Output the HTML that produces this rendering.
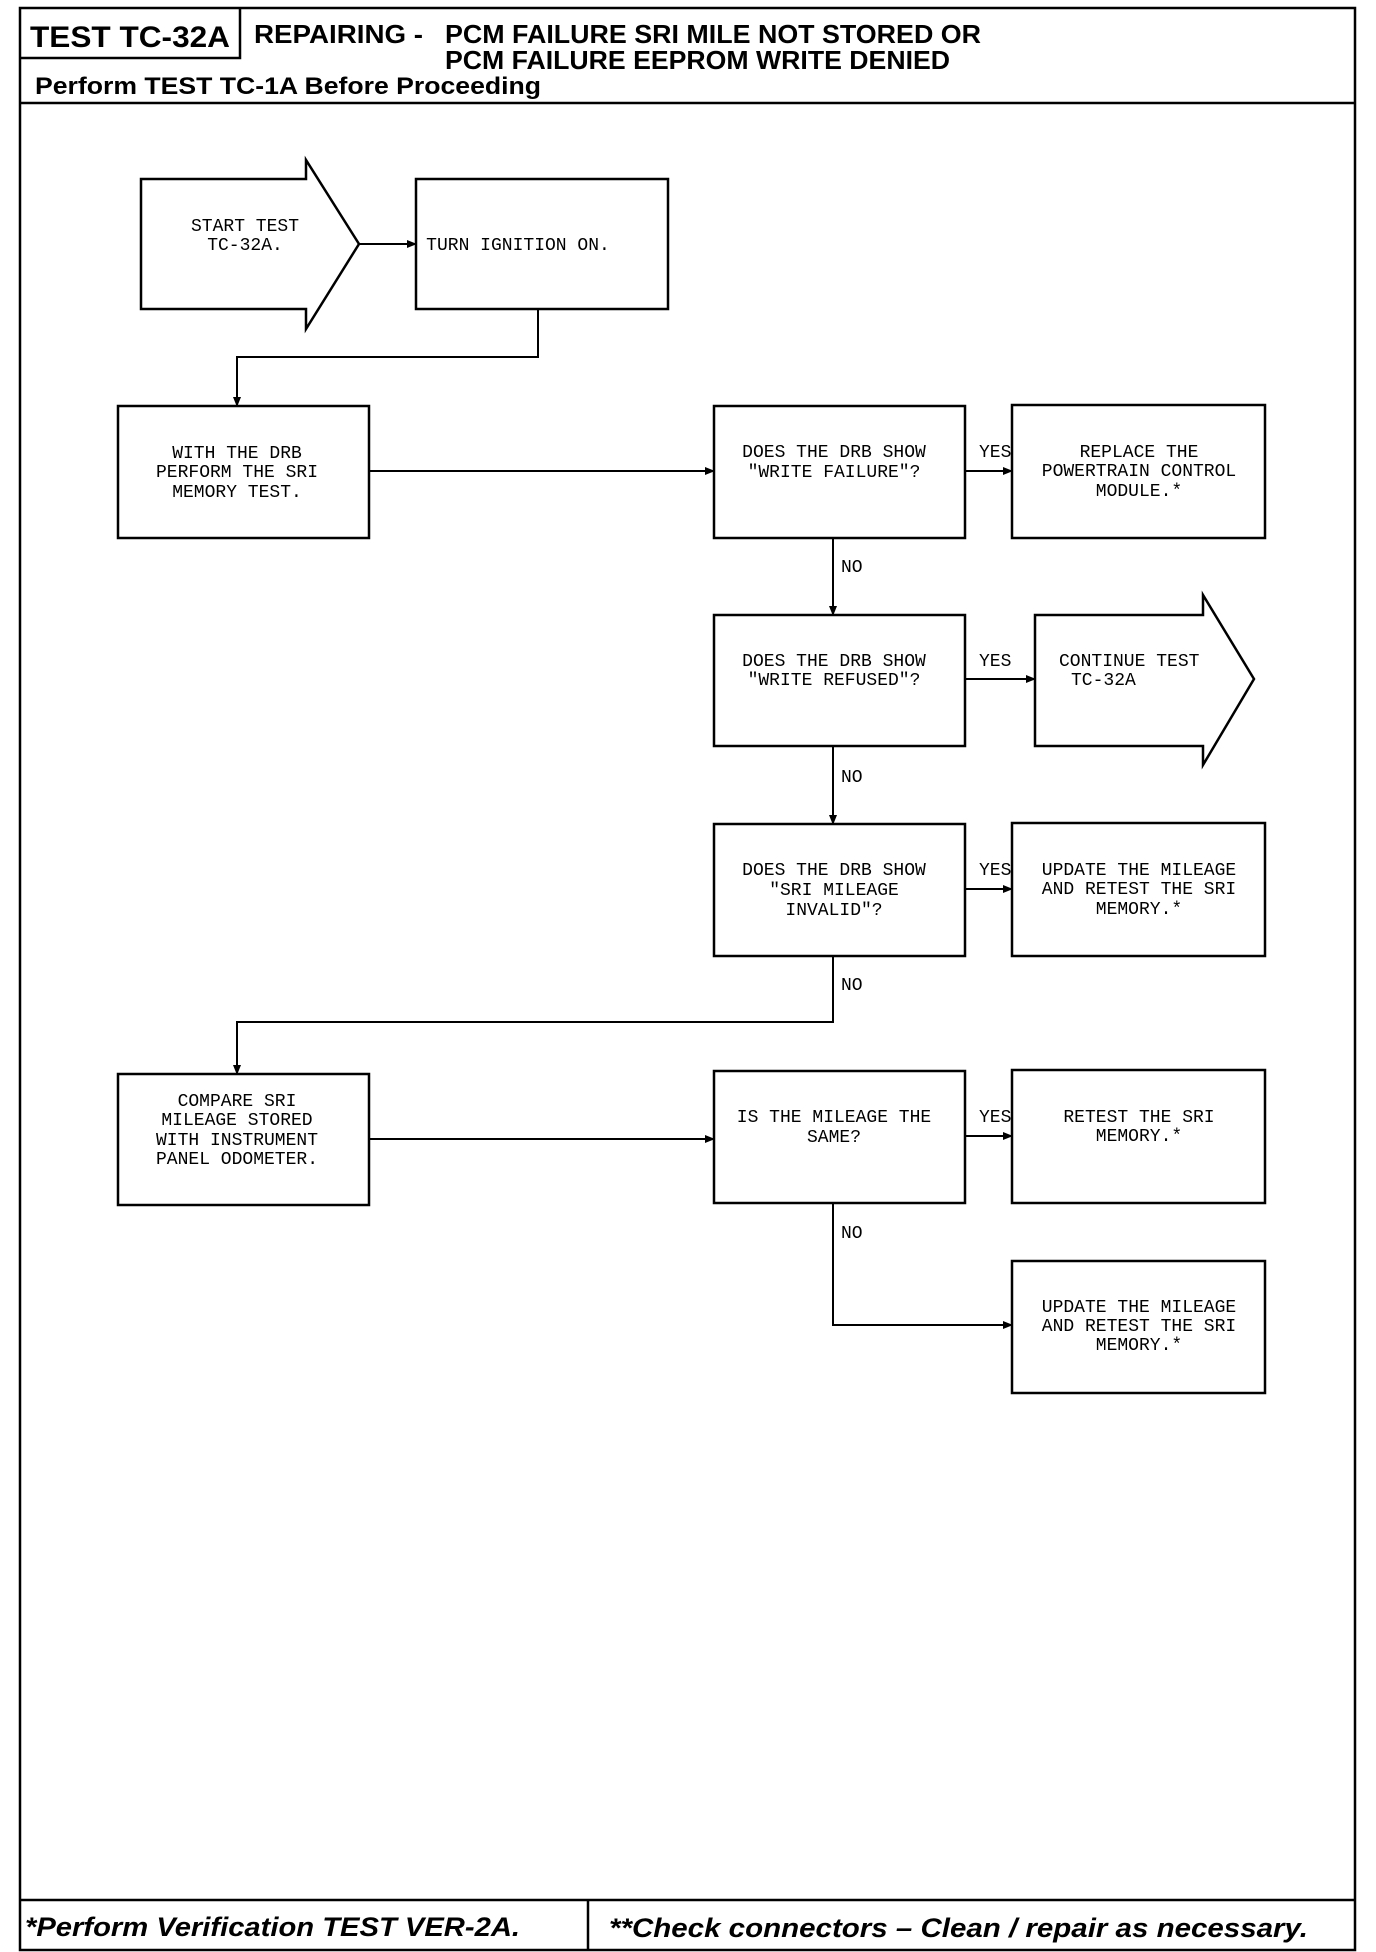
<!DOCTYPE html>
<html><head><meta charset="utf-8"><style>
html,body{margin:0;padding:0;background:#fff}
svg{display:block}
.t{font-family:"Liberation Mono",monospace;font-size:18px;fill:#000}
.h{font-family:"Liberation Sans",sans-serif;font-weight:bold;fill:#000}
</style></head><body>
<svg width="1376" height="1952" viewBox="0 0 1376 1952" xmlns="http://www.w3.org/2000/svg">
<defs><marker id="a" markerWidth="10" markerHeight="10" refX="9" refY="5" orient="auto" markerUnits="userSpaceOnUse"><path d="M0,1 L10,5 L0,9 z" fill="#000"/></marker></defs>
<g fill="none" stroke="#000" stroke-width="2.5">
<rect x="20" y="8" width="1335" height="1942"/>
<line x1="20" y1="103" x2="1355" y2="103"/>
<polyline points="20,58 240,58 240,8"/>
<line x1="20" y1="1900" x2="1355" y2="1900"/>
<line x1="588" y1="1900" x2="588" y2="1950"/>
</g>
<text class="h" x="30" y="47" font-size="30" textLength="200" lengthAdjust="spacingAndGlyphs">TEST TC-32A</text>
<text class="h" x="254" y="43" font-size="26" textLength="169" lengthAdjust="spacingAndGlyphs">REPAIRING -</text>
<text class="h" x="445" y="43" font-size="26" textLength="536" lengthAdjust="spacingAndGlyphs">PCM FAILURE SRI MILE NOT STORED OR</text>
<text class="h" x="445" y="69" font-size="26" textLength="505" lengthAdjust="spacingAndGlyphs">PCM FAILURE EEPROM WRITE DENIED</text>
<text class="h" x="35" y="94" font-size="24" textLength="506" lengthAdjust="spacingAndGlyphs">Perform TEST TC-1A Before Proceeding</text>
<text class="h" x="25" y="1936" font-size="27" font-style="italic" textLength="495" lengthAdjust="spacingAndGlyphs">*Perform Verification TEST VER-2A.</text>
<text class="h" x="609" y="1937" font-size="27" font-style="italic" textLength="699" lengthAdjust="spacingAndGlyphs">**Check connectors – Clean / repair as necessary.</text>

<g fill="none" stroke="#000" stroke-width="2.5">
<polygon points="141,179 306,179 306,160 359,244 306,329 306,309 141,309"/>
<rect x="416" y="179" width="252" height="130"/>
<rect x="118" y="406" width="251" height="132"/>
<rect x="714" y="406" width="251" height="132"/>
<rect x="1012" y="405" width="253" height="133"/>
<rect x="714" y="615" width="251" height="131"/>
<polygon points="1035,615 1203,615 1203,595 1254,679 1203,765 1203,746 1035,746"/>
<rect x="714" y="824" width="251" height="132"/>
<rect x="1012" y="823" width="253" height="133"/>
<rect x="118" y="1074" width="251" height="131"/>
<rect x="714" y="1071" width="251" height="132"/>
<rect x="1012" y="1070" width="253" height="133"/>
<rect x="1012" y="1261" width="253" height="132"/>
</g>
<g fill="none" stroke="#000" stroke-width="2" marker-end="url(#a)">
<line x1="359" y1="244" x2="416" y2="244"/>
<polyline points="538,309 538,357 237,357 237,406"/>
<line x1="369" y1="471" x2="714" y2="471"/>
<line x1="965" y1="471" x2="1012" y2="471"/>
<line x1="833" y1="538" x2="833" y2="615"/>
<line x1="965" y1="679" x2="1035" y2="679"/>
<line x1="833" y1="746" x2="833" y2="824"/>
<line x1="965" y1="889" x2="1012" y2="889"/>
<polyline points="833,956 833,1022 237,1022 237,1074"/>
<line x1="369" y1="1139" x2="714" y2="1139"/>
<line x1="965" y1="1136" x2="1012" y2="1136"/>
<polyline points="833,1203 833,1325 1012,1325"/>
</g>
<g class="t" text-anchor="middle">
<text x="245" y="231">START TEST</text><text x="245" y="250">TC-32A.</text>
<text x="518" y="250">TURN IGNITION ON.</text>
<text x="237" y="458">WITH THE DRB</text><text x="237" y="477">PERFORM THE SRI</text><text x="237" y="497">MEMORY TEST.</text>
<text x="834" y="457">DOES THE DRB SHOW</text><text x="834" y="477">"WRITE FAILURE"?</text>
<text x="1139" y="457">REPLACE THE</text><text x="1139" y="476">POWERTRAIN CONTROL</text><text x="1139" y="496">MODULE.*</text>
<text x="834" y="666">DOES THE DRB SHOW</text><text x="834" y="685">"WRITE REFUSED"?</text>
<text x="834" y="875">DOES THE DRB SHOW</text><text x="834" y="895">"SRI MILEAGE</text><text x="834" y="915">INVALID"?</text>
<text x="1139" y="875">UPDATE THE MILEAGE</text><text x="1139" y="894">AND RETEST THE SRI</text><text x="1139" y="914">MEMORY.*</text>
<text x="237" y="1106">COMPARE SRI</text><text x="237" y="1125">MILEAGE STORED</text><text x="237" y="1145">WITH INSTRUMENT</text><text x="237" y="1164">PANEL ODOMETER.</text>
<text x="834" y="1122">IS THE MILEAGE THE</text><text x="834" y="1142">SAME?</text>
<text x="1139" y="1122">RETEST THE SRI</text><text x="1139" y="1141">MEMORY.*</text>
<text x="1139" y="1312">UPDATE THE MILEAGE</text><text x="1139" y="1331">AND RETEST THE SRI</text><text x="1139" y="1350">MEMORY.*</text>
</g>
<g class="t">
<text x="1059" y="666">CONTINUE TEST</text><text x="1071" y="685">TC-32A</text>
<text x="979" y="457">YES</text><text x="979" y="666">YES</text><text x="979" y="875">YES</text><text x="979" y="1122">YES</text>
<text x="841" y="572">NO</text><text x="841" y="782">NO</text><text x="841" y="990">NO</text><text x="841" y="1238">NO</text>
</g>
</svg>
</body></html>
